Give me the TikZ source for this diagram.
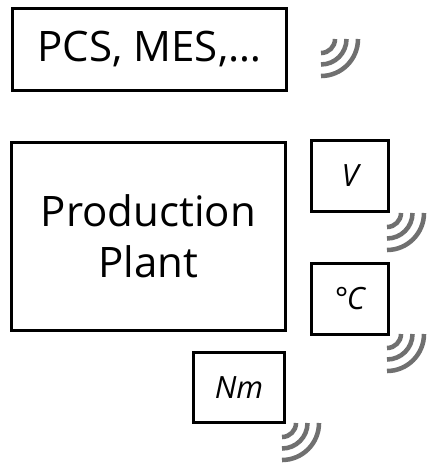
\documentclass[tikz,border=0pt]{standalone}
\usepackage{fontspec}
\setmainfont{Open Sans}
\usetikzlibrary{positioning}
\definecolor{wavegray}{RGB}{112,112,112}
\tikzset{
    unitbox/.style={draw=black, line width=2.25pt, inner sep=0pt, align=center},
    bigtext/.style={font=\fontsize{31.5}{38}\selectfont},
    smalltext/.style={font=\fontsize{23}{27}\selectfont\itshape},
    wave/.style={color=wavegray, line width=3.4pt},
}
\begin{document}
\begin{tikzpicture}[x=0.75pt,y=-0.75pt]
    \def\ra{14}
    \def\rb{25.5}
    \def\rc{37}
    \useasboundingbox (0,0) rectangle (426,463);

    \node[unitbox, bigtext, minimum width=205pt, minimum height=61pt] (pcs) at (149.5,49.5) {PCS, MES,…};
    \node[unitbox, bigtext, minimum width=205pt, minimum height=141pt] (plant) at (148.5,236.5) {Production\\Plant};
    \node[unitbox, smalltext, minimum width=58pt, minimum height=53pt] (volt) at (350,176) {V};
    \node[unitbox, smalltext, minimum width=58pt, minimum height=53pt] (temp) at (350,299) {°\kern-1pt C};
    \node[unitbox, smalltext, minimum width=68pt, minimum height=53pt] (torque) at (239,387.5) {Nm};

    % signal arcs
    \foreach \cx/\cy in {321/39, 387/213, 387/334, 282/423} {
        \foreach \r in {\ra,\rb,\rc} {
            \draw[wave] (\cx,\cy+\r) arc[start angle=-90, end angle=0, radius=\r*0.75pt];
        }
    }
\end{tikzpicture}
\end{document}
